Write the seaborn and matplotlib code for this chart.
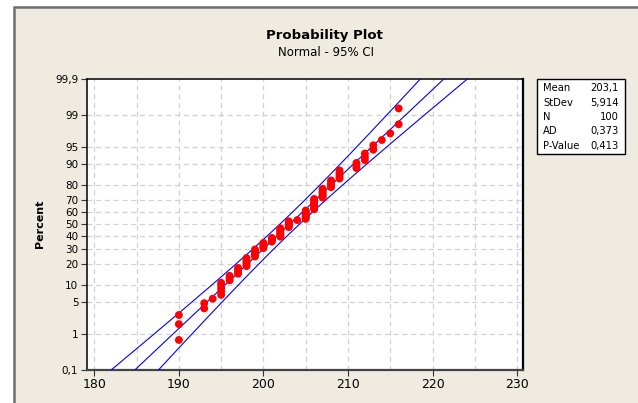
import numpy as np
import pandas as pd
import matplotlib
matplotlib.use("Agg")
import matplotlib.pyplot as plt
from matplotlib.patches import Rectangle
import seaborn as sns
from statistics import NormalDist

# ------------------ Data ------------------
values = [190, 193, 194, 195, 196, 197, 198, 199, 200, 201, 202, 203,
          204, 205, 206, 207, 208, 209, 211, 212, 213, 214, 215, 216]
counts = [3, 2, 1, 5, 3, 4, 6, 6, 5, 4, 8, 6,
          1, 8, 9, 7, 5, 5, 3, 3, 2, 1, 1, 2]

stat_names = ["Mean", "StDev", "N", "AD", "P-Value"]
stat_values = ["203,1", "5,914", "100", "0,373", "0,413"]
mean, stdev, n = 203.1, 5.914, 100

y_ticks = [0.1, 1, 5, 10, 20, 30, 40, 50, 60, 70, 80, 90, 95, 99, 99.9]
y_labels = ["0,1", "1", "5", "10", "20", "30", "40", "50", "60", "70",
            "80", "90", "95", "99", "99,9"]
x_ticks = [180, 190, 200, 210, 220, 230]

# ------------------ Plotting positions & fitted line with 95% CI ------------------
obs = np.repeat(values, counts)
rank = np.arange(1, len(obs) + 1)
df = pd.DataFrame({"x": obs, "pct": (rank - 0.3) / (len(obs) + 0.4) * 100})

nd = NormalDist()
z_grid = np.linspace(-3.6, 3.6, 145)
p_grid = np.array([nd.cdf(z) * 100 for z in z_grid])
half = 1.96 * stdev * np.sqrt((1 + z_grid ** 2 / 2) / n)
fit = mean + z_grid * stdev

_ppf = np.vectorize(lambda v: nd.inv_cdf(v / 100), otypes=[float])
_cdf = np.vectorize(lambda v: nd.cdf(v) * 100, otypes=[float])


def fwd(p):
    p = np.clip(np.asarray(p, dtype=float), 1e-6, 100 - 1e-6)
    return _ppf(p)


def inv(z):
    return _cdf(np.asarray(z, dtype=float))


# ------------------ Figure ------------------
sns.set_style("white")
plt.rcParams["font.family"] = ["DejaVu Sans"]
plt.rcParams["text.color"] = "black"
plt.rcParams["xtick.color"] = "black"
plt.rcParams["ytick.color"] = "black"

fig = plt.figure(figsize=(6.38, 4.03), dpi=100)
fig.patch.set_facecolor("white")
bg = Rectangle((14 / 638, -0.1), 1.2, 1 - 7 / 403 + 0.1,
               transform=fig.transFigure, facecolor="#EFEBE1",
               edgecolor="#6E6E6E", linewidth=1.8, zorder=-5)
fig.patches.append(bg)

ax = fig.add_axes([86.7 / 638, 1 - 369.7 / 403, (523 - 86.7) / 638, (369.7 - 78.7) / 403])
ax.set_zorder(1)
ax.set_facecolor("white")
ax.set_yscale("function", functions=(fwd, inv))

for line_x in (fit - half, fit, fit + half):
    sns.lineplot(x=line_x, y=p_grid, sort=False, estimator=None, color="#0000FF",
                 linewidth=0.8, ax=ax, zorder=3)
sns.scatterplot(data=df, x="x", y="pct", color="#FF0000", s=32,
                edgecolor="none", ax=ax, zorder=4)

ax.set_xlim(179.1, 230.7)
ax.set_ylim(0.1, 99.9)
ax.set_xticks(x_ticks)
ax.set_xticklabels([str(t) for t in x_ticks], fontsize=9)
ax.set_yticks(y_ticks)
ax.set_yticklabels(y_labels, fontsize=7.5)
ax.minorticks_off()

# dashed grid, every 5 on x
for gx in range(180, 231, 5):
    ax.axvline(gx, color="#D0D0D0", linestyle=(0, (4, 3)), linewidth=0.9, zorder=1)
for gy in y_ticks[1:-1]:
    ax.axhline(gy, color="#D0D0D0", linestyle=(0, (4, 3)), linewidth=0.9, zorder=1)

ax.tick_params(axis="both", direction="out", length=4, width=0.8, color="#333333",
               pad=2, left=True, bottom=True)
for s in ax.spines.values():
    s.set_color("black")
    s.set_linewidth(1.1)
ax.spines["right"].set_linewidth(1.6)
ax.spines["bottom"].set_linewidth(1.6)
ax.spines["bottom"].set_color("#444444")

ax.set_xlabel("")
ax.set_ylabel("")
fig.text(40 / 638, 1 - 224 / 403, "Percent", rotation=90, ha="center", va="center",
         fontsize=8, fontweight="bold")

fig.text(324 / 638, 1 - 36 / 403, "Probability Plot", ha="center", va="center",
         fontsize=9.5, fontweight="bold")
fig.text(326 / 638, 1 - 53 / 403, "Normal - 95% CI", ha="center", va="center",
         fontsize=8.5)

# stats box
fig.patches.append(Rectangle((537.3 / 638, 1 - 154.3 / 403), 88 / 638, 75.6 / 403,
                             transform=fig.transFigure, facecolor="white",
                             edgecolor="black", linewidth=1.0, zorder=2))
for i, (name, val) in enumerate(zip(stat_names, stat_values)):
    yy = 1 - (88.3 + i * 14.35) / 403
    fig.text(543.3 / 638, yy, name, ha="left", va="center", fontsize=7.2)
    fig.text(618.3 / 638, yy, val, ha="right", va="center", fontsize=7.2)

plt.savefig("out.png", dpi=100)
plt.close()
